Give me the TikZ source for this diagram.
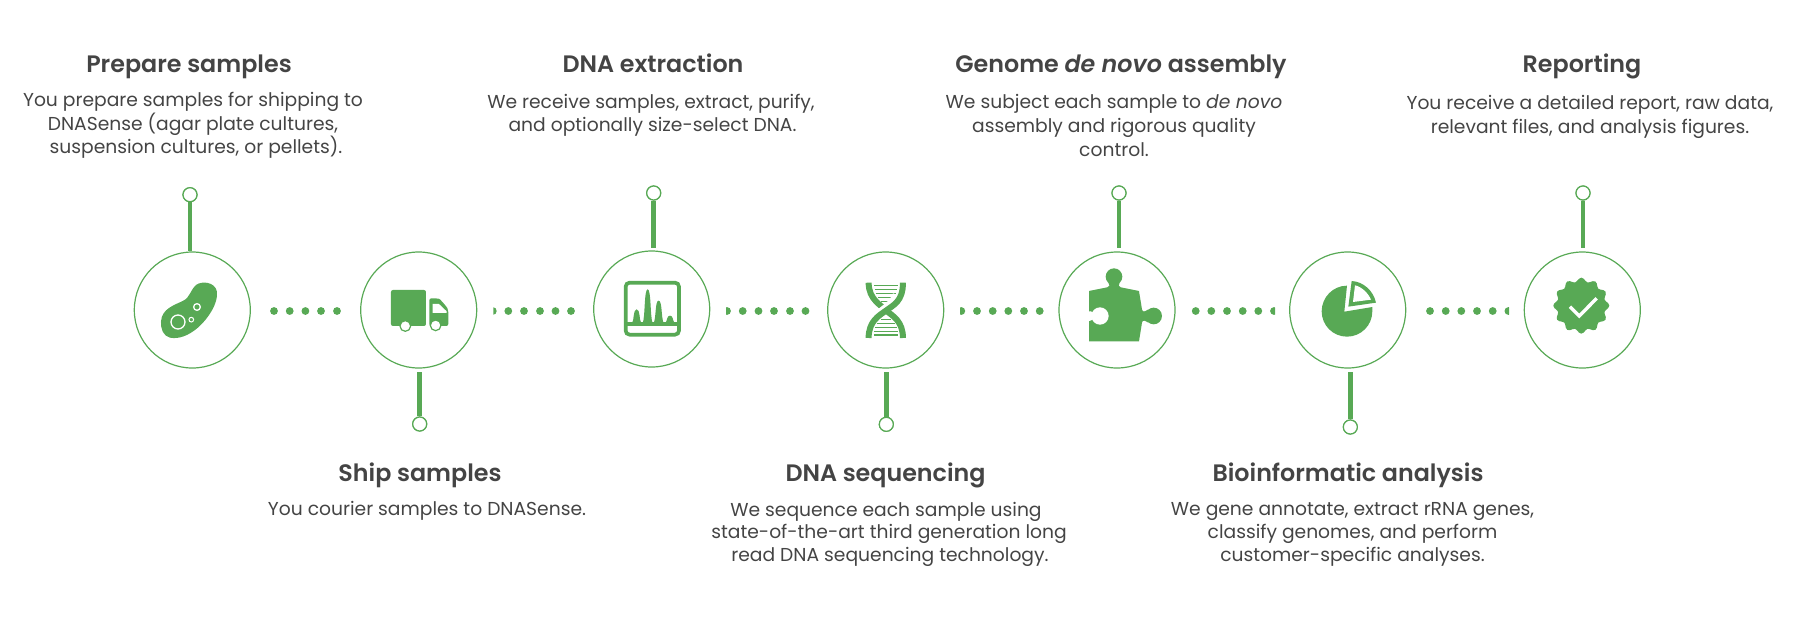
\documentclass[tikz,border=0pt]{standalone}
\usepackage{fontspec}
\setmainfont{Poppins}[BoldFont={Poppins SemiBold},BoldItalicFont={Poppins SemiBold Italic}]
\definecolor{gr}{HTML}{58A955}
\definecolor{tx}{HTML}{444444}
\tikzset{
 big/.style={circle,draw=gr,line width=1.2pt,minimum size=116pt,inner sep=0pt},
 tip/.style={circle,draw=gr,line width=1.2pt,fill=white,minimum size=14pt,inner sep=0pt},
 stem/.style={draw=gr,line width=4.6pt},
 title/.style={font=\fontsize{23.8}{28}\selectfont\bfseries,text=tx,anchor=base},
 body/.style={font=\fontsize{18.7}{#1}\selectfont,text=tx,align=center,anchor=base},
 body/.default=22.5,
 icon/.style={x=0.3333pt,y=-0.3333pt}
}
\begin{document}
\begin{tikzpicture}[x=1pt,y=-1pt]
\useasboundingbox (0,0) rectangle (1796,625);
% circles
\node[big] (c1) at (192.3,310) {};
\node[big] (c2) at (418.7,310) {};
\node[big] (c3) at (651.7,309) {};
\node[big] (c4) at (885.7,310) {};
\node[big] (c5) at (1117,310) {};
\node[big] (c6) at (1347.7,310) {};
\node[big] (c7) at (1582.3,310) {};
% tips and stems
\node[tip] (p1) at (190,194.7) {}; \coordinate (q1) at (190,251);
\node[tip] (p2) at (419.7,424) {}; \coordinate (q2) at (419.7,371.7);
\node[tip] (p3) at (653.7,193) {}; \coordinate (q3) at (653.7,248);
\node[tip] (p4) at (886.3,424.3) {}; \coordinate (q4) at (886.3,371.7);
\node[tip] (p5) at (1119,193) {}; \coordinate (q5) at (1119,248);
\node[tip] (p6) at (1350.3,427) {}; \coordinate (q6) at (1350.3,371.7);
\node[tip] (p7) at (1583,193) {}; \coordinate (q7) at (1583,248);
\foreach \i in {1,...,7} \draw[stem] (p\i) -- (q\i);
\foreach \i in {1,...,7} \node[tip] at (p\i) {};
% dots
\foreach \a in {274,289.7,305.4,321,337,508.3,524,540,555.5,571,742.7,758.5,774,790,805.5,977,992.7,1008.3,1024,1039.7,1195.7,1211.3,1227,1242.7,1258.3,1430,1445.7,1461.3,1477,1492.7}
  \fill[gr] (\a,311) circle (3.9);
\begin{scope}\clip (493.3,300) rectangle (500,320); \fill[gr] (492.8,311) circle (3.9);\end{scope}
\begin{scope}\clip (726,300) rectangle (735,320); \fill[gr] (727,311) circle (3.9);\end{scope}
\begin{scope}\clip (960,300) rectangle (970,320); \fill[gr] (961.3,311) circle (3.9);\end{scope}
\begin{scope}\clip (1265,300) rectangle (1275,320); \fill[gr] (1274,311) circle (3.9);\end{scope}
\begin{scope}\clip (1500,300) rectangle (1509,320); \fill[gr] (1508.4,311) circle (3.9);\end{scope}
% bacterium
\begin{scope}[shift={(100,170)},icon]
\fill[gr] (183,455) .. controls (185,415) and (225,405) .. (250,392) .. controls (270,382) and (270,362) .. (288,345) .. controls (305,332) and (345,335) .. (351,365) .. controls (355,400) and (325,445) .. (295,472) .. controls (265,498) and (235,508) .. (210,503) .. controls (190,498) and (182,478) .. (183,455) -- cycle;
\draw[white,line width=1.3pt] (234,456) circle (21);
\draw[white,line width=1.3pt] (291,411) circle (10);
\draw[white,line width=1pt] (274,449) circle (7);
\end{scope}
% truck
\begin{scope}[shift={(100,170)},icon]
\fill[gr,rounded corners=2pt] (873,360) rectangle (978,468);
\fill[gr,rounded corners=2pt] (988,468) -- (988,385) -- (1012,385) .. controls (1020,387) and (1040,410) .. (1045,420) -- (1045,468) -- cycle;
\fill[white] (998,402) -- (1017,402) -- (1040,424) -- (1040,429) -- (998,429) -- cycle;
\draw[gr,line width=1.2pt,fill=white] (916,468) circle (16);
\draw[gr,line width=1.2pt,fill=white] (1007,466) circle (16);
\end{scope}
% chart
\begin{scope}[shift={(480,170)},icon]
\draw[gr,line width=3.7pt,rounded corners=4pt] (437,338) rectangle (597,494);
\fill[gr] (437,457) rectangle (597,467);
\fill[gr] (456,460) .. controls (463,450) and (459,418) .. (470,418) .. controls (481,418) and (477,450) .. (484,460) -- cycle;
\fill[gr] (488,460) .. controls (496,440) and (492,358) .. (503,358) .. controls (514,358) and (510,440) .. (518,460) -- cycle;
\fill[gr] (521,460) .. controls (529,440) and (525,392) .. (536,392) .. controls (547,392) and (543,440) .. (551,460) -- cycle;
\fill[gr] (556,460) .. controls (563,450) and (560,437) .. (570,437) .. controls (580,437) and (577,450) .. (584,460) -- cycle;
\end{scope}
% DNA
\begin{scope}[shift={(480,170)},icon]
\foreach \y/\a/\b in {346/1182/1254,358/1185/1251,370/1188/1248,382/1194/1242,395/1204/1236,449/1204/1232,461/1190/1246,473/1186/1250,485/1183/1253,495/1182/1254}
  \draw[gr,line width=1.5pt] (\a,\y) -- (\b,\y);
\draw[gr,line width=6pt] (1166,338) .. controls (1166,390) and (1205,405) .. (1218,422) .. controls (1240,438) and (1269,455) .. (1269,504);
\draw[white,line width=8pt] (1250,375) .. controls (1240,400) and (1220,412) .. (1185,440);
\draw[gr,line width=6pt] (1269,338) .. controls (1269,395) and (1240,405) .. (1218,422) .. controls (1195,438) and (1166,455) .. (1166,504);
\end{scope}
% puzzle
\begin{scope}[shift={(1030,170)},icon]
\fill[gr] (177,363) -- (232,352) .. controls (240,350) and (240,345) .. (235,338) -- (269,338) .. controls (264,345) and (266,350) .. (272,352) -- (327,363) -- (336,418) .. controls (338,428) and (345,425) .. (355,418) -- (355,458) .. controls (345,452) and (338,448) .. (336,458) -- (327,514) -- (177,514) -- cycle;
\fill[gr] (252,320) circle (25);
\fill[gr] (371,438) circle (25);
\fill[white] (210,438) circle (26);
\fill[white] (170,425) .. controls (178,420) and (188,425) .. (192,430) -- (192,445) .. controls (188,450) and (178,456) .. (170,451) -- cycle;
\end{scope}
% pie
\begin{scope}[shift={(1260,170)},icon]
\fill[gr] (253,425) -- (261,347) .. controls (219,347) and (185,382) .. (185,424) .. controls (185,466) and (219,500) .. (261,500) .. controls (303,500) and (337,466) .. (337,424) -- (337,411) -- cycle;
\fill[gr] (265,410) -- (275,333) .. controls (310,335) and (340,362) .. (348,398) -- cycle;
\fill[white] (279,396) -- (285,346) .. controls (305,350) and (325,370) .. (333,389) -- cycle;
\end{scope}
% badge
\begin{scope}[shift={(1260,170)},icon]
\fill[gr] plot[smooth cycle,domain=0:355,samples=72] ({964+(78+6*cos(12*(\x-90)))*cos(\x)},{407-(78+6*cos(12*(\x-90)))*sin(\x)});
\draw[white,line width=3.4pt] (930,410) -- (958,438) -- (1010,385);
\end{scope}
% texts
\node[title] (t1) at (189,72) {Prepare samples};
\node[body=22.2] (b1) at (193,153.7) {You prepare samples for shipping to\\DNASense (agar plate cultures,\\\hspace*{6pt}suspension cultures, or pellets).};
\node[title] (t3) at (653,72) {DNA extraction};
\node[body=23.4] (b3) at (651,131.7) {We receive samples, extract, purify,\\\hspace*{3pt}and optionally size-select DNA.};
\node[title] (t5) at (1121,72) {Genome \textit{de novo} assembly};
\node[body=24] (b5) at (1114,156) {We subject each sample to \textit{de novo}\\assembly and rigorous quality\\control.};
\node[title] (t7) at (1582,72) {Reporting};
\node[body=23.5] (b7) at (1590,133) {You receive a detailed report, raw data,\\relevant files, and analysis figures.};
\node[title] (t2) at (420,481) {Ship samples};
\node[body] (b2) at (427,515.3) {You courier samples to DNASense.};
\node[title] (t4) at (885.5,481) {DNA sequencing};
\node[body=22.5] (b4) at (889,561) {\hspace*{-6pt}We sequence each sample using\\state-of-the-art third generation long\\\hspace*{2pt}read DNA sequencing technology.};
\node[title] (t6) at (1348,481) {Bioinformatic analysis};
\node[body=22.8] (b6) at (1352.5,561) {We gene annotate, extract rRNA genes,\\classify genomes, and perform\\customer-specific analyses.};
\end{tikzpicture}
\end{document}
